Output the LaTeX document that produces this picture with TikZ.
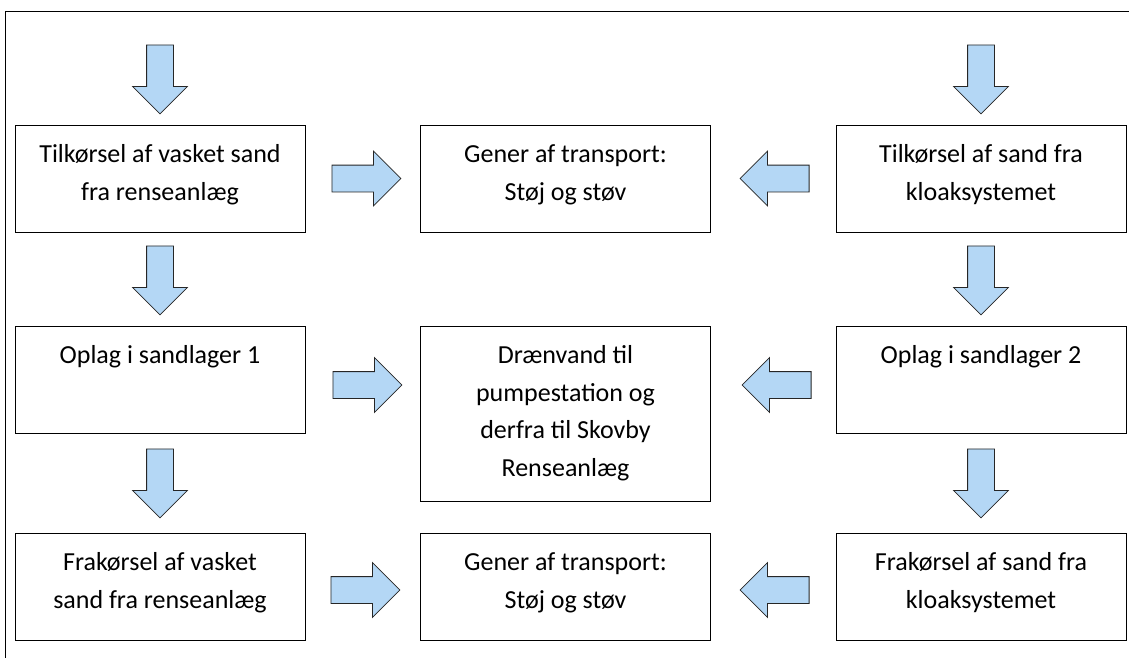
\documentclass[tikz,border=0pt]{standalone}
\usepackage{fontspec}
\setmainfont{Carlito}
\usetikzlibrary{shapes.arrows,positioning,calc}
\definecolor{arrowblue}{RGB}{180,215,245}
\tikzstyle{box} = [draw, line width=1pt, minimum width=290pt, minimum height=107pt, inner sep=0pt]
\tikzstyle{txt} = [align=center, inner sep=0pt, font=\fontsize{26}{37.5}\selectfont]
\tikzstyle{barrow} = [single arrow, draw=black!85, fill=arrowblue, line width=0.8pt, minimum height=69pt, minimum width=54pt, single arrow head extend=14pt, single arrow head indent=0pt, inner sep=13pt, anchor=tail]

\begin{document}
\begin{tikzpicture}[x=1pt, y=-1pt]
      \useasboundingbox (0,0) rectangle (1129,657);
      \draw [line width=1pt] (5,660) -- (5,11) -- (1132,11);
      % boxes
      \node[box] (l1) at (160,178.5) {};
      \node[box] (m1) at (565.5,178.5) {};
      \node[box] (r1) at (981,178.5) {};
      \node[box] (l2) at (160,379.5) {};
      \node[box, minimum height=175pt] (m2) at (565.5,413.5) {};
      \node[box] (r2) at (981,379.5) {};
      \node[box] (l3) at (160,586.5) {};
      \node[box] (m3) at (565.5,586.5) {};
      \node[box] (r3) at (981,586.5) {};
      % texts
      \node[txt, below=20pt of l1.north] (l1t) {Tilkørsel af vasket sand\\fra renseanlæg};
      \node[txt, below=20pt of m1.north] (m1t) {Gener af transport:\\Støj og støv};
      \node[txt, below=20pt of r1.north] (r1t) {Tilkørsel af sand fra\\kloaksystemet};
      \node[txt, below=20pt of l2.north] (l2t) {Oplag i sandlager 1};
      \node[txt, below=20pt of m2.north] (m2t) {Drænvand til\\pumpestation og\\derfra til Skovby\\Renseanlæg};
      \node[txt, below=20pt of r2.north] (r2t) {Oplag i sandlager 2};
      \node[txt, below=20pt of l3.north] (l3t) {Frakørsel af vasket\\sand fra renseanlæg};
      \node[txt, below=20pt of m3.north] (m3t) {Gener af transport:\\Støj og støv};
      \node[txt, below=20pt of r3.north] (r3t) {Frakørsel af sand fra\\kloaksystemet};
      % block arrows
      \node[barrow, shape border rotate=270] (al0) at ($(l1.north)+(0,-80)$) {};
      \node[barrow, shape border rotate=270] (ar0) at ($(r1.north)+(0,-80)$) {};
      \node[barrow, shape border rotate=270] (al1) at ($(l1.south)+(0,13)$) {};
      \node[barrow, shape border rotate=270] (ar1) at ($(r1.south)+(0,13)$) {};
      \node[barrow, shape border rotate=270] (al2) at ($(l2.south)+(0,15)$) {};
      \node[barrow, shape border rotate=270] (ar2) at ($(r2.south)+(0,15)$) {};
      \node[barrow] (hl1) at ($(l1.east)+(26,0)$) {};
      \node[barrow, shape border rotate=180] (hr1) at ($(r1.west)+(-26,0)$) {};
      \node[barrow] (hl2) at ($(l2.east)+(27,5.5)$) {};
      \node[barrow, shape border rotate=180] (hr2) at ($(r2.west)+(-24,5.5)$) {};
      \node[barrow] (hl3) at ($(l3.east)+(25,3.5)$) {};
      \node[barrow, shape border rotate=180] (hr3) at ($(r3.west)+(-26,3.5)$) {};
\end{tikzpicture}
\end{document}
